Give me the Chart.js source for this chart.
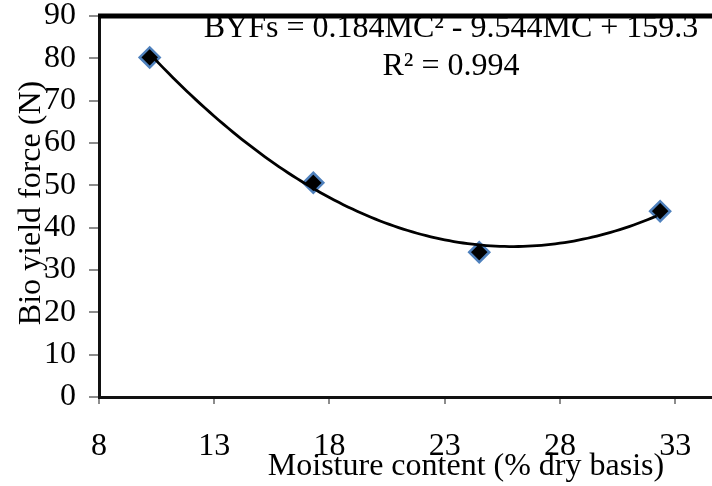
<!DOCTYPE html>
<html>
<head>
<meta charset="utf-8">
<script src="https://cdn.jsdelivr.net/npm/chart.js@4.4.1/dist/chart.umd.min.js"></script>
<style>
  html, body { margin: 0; padding: 0; background: #fff; overflow: hidden; }
  #wrap { width: 712px; height: 486px; }
</style>
</head>
<body>
<div id="wrap"><canvas id="byfChart" width="712" height="486"></canvas></div>
<script>
// measured points
const moisture = [10.2, 17.3, 24.5, 32.35];
const yieldForce = [80.2, 50.6, 34.2, 43.9];

// axis ticks
const xTicks = [8, 13, 18, 23, 28, 33];
const yTicks = [0, 10, 20, 30, 40, 50, 60, 70, 80, 90];

// quadratic trendline BYFs = a*MC^2 + b*MC + c
const fitCoef = [0.184, -9.544, 159.3];
const fitLabel = ['BYFs = 0.184MC\u00B2 - 9.544MC + 159.3', 'R\u00B2 = 0.994'];
const xTitle = 'Moisture content (% dry basis)';
const yTitle = 'Bio yield force (N)';

const FONT = "'Liberation Serif', 'Times New Roman', serif";

const trend = [];
for (let mc = moisture[0]; mc <= moisture[moisture.length - 1] + 1e-9; mc += 0.2) {
    trend.push({ x: mc, y: fitCoef[0] * mc * mc + fitCoef[1] * mc + fitCoef[2] });
}

const points = moisture.map((mc, i) => ({ x: mc, y: yieldForce[i] }));

// titles, equation and the heavy top frame line
const decorPlugin = {
    id: 'decor',
    afterDatasetsDraw(chart) {
        const c = chart.ctx;
        c.save();
        c.fillStyle = '#000';
        c.font = '32px ' + FONT;
        c.textAlign = 'center';
        c.textBaseline = 'alphabetic';
        c.fillText(fitLabel[0], 451, 37);
        c.fillText(fitLabel[1], 451, 75);
        c.restore();
    },
    afterDraw(chart) {
        const c = chart.ctx;
        const a = chart.chartArea;
        c.save();
        c.strokeStyle = '#000';
        c.lineWidth = 5;
        c.beginPath();
        c.moveTo(a.left - 1, a.top);
        c.lineTo(a.right, a.top);
        c.stroke();

        c.fillStyle = '#000';
        c.font = '32px ' + FONT;
        c.textAlign = 'center';
        c.textBaseline = 'alphabetic';
        c.fillText(xTitle, 466, 475);

        c.translate(40, 203);
        c.rotate(-Math.PI / 2);
        c.fillText(yTitle, 0, 0);
        c.restore();
    }
};

new Chart(document.getElementById('byfChart'), {
    type: 'scatter',
    data: {
        datasets: [
            {
                data: trend,
                showLine: true,
                borderColor: '#000',
                borderWidth: 2.8,
                pointRadius: 0,
                tension: 0,
                fill: false
            },
            {
                data: points,
                pointStyle: 'rectRot',
                pointRadius: 10,
                backgroundColor: '#000',
                borderColor: '#4F81BD',
                borderWidth: 2.5
            }
        ]
    },
    options: {
        responsive: false,
        animation: false,
        events: [],
        layout: { autoPadding: false, padding: { top: 16, left: 0, right: 0, bottom: 0 } },
        plugins: {
            legend: { display: false },
            tooltip: { enabled: false }
        },
        scales: {
            x: {
                type: 'linear',
                min: 8,
                max: 34.6,
                afterBuildTicks: s => { s.ticks = xTicks.map(v => ({ value: v })); },
                afterFit: s => { s.height = 89; s.paddingLeft = 0; s.paddingRight = 0; },
                ticks: {
                    color: '#000',
                    font: { family: FONT, size: 32 },
                    padding: 23,
                    maxRotation: 0,
                    autoSkip: false
                },
                grid: {
                    drawOnChartArea: false,
                    drawTicks: true,
                    tickLength: 7,
                    color: '#8c8c8c',
                    lineWidth: 2
                },
                border: { display: true, color: '#111', width: 3 }
            },
            y: {
                min: 0,
                max: 90,
                afterBuildTicks: s => { s.ticks = yTicks.map(v => ({ value: v })); },
                afterFit: s => { s.width = 99; s.paddingTop = 0; s.paddingBottom = 0; },
                ticks: {
                    color: '#000',
                    font: { family: FONT, size: 32 },
                    padding: 13,
                    autoSkip: false
                },
                grid: {
                    drawOnChartArea: false,
                    drawTicks: true,
                    tickLength: 10,
                    color: '#8c8c8c',
                    lineWidth: 2
                },
                border: { display: true, color: '#111', width: 3 }
            }
        }
    },
    plugins: [decorPlugin]
});
</script>
</body>
</html>
